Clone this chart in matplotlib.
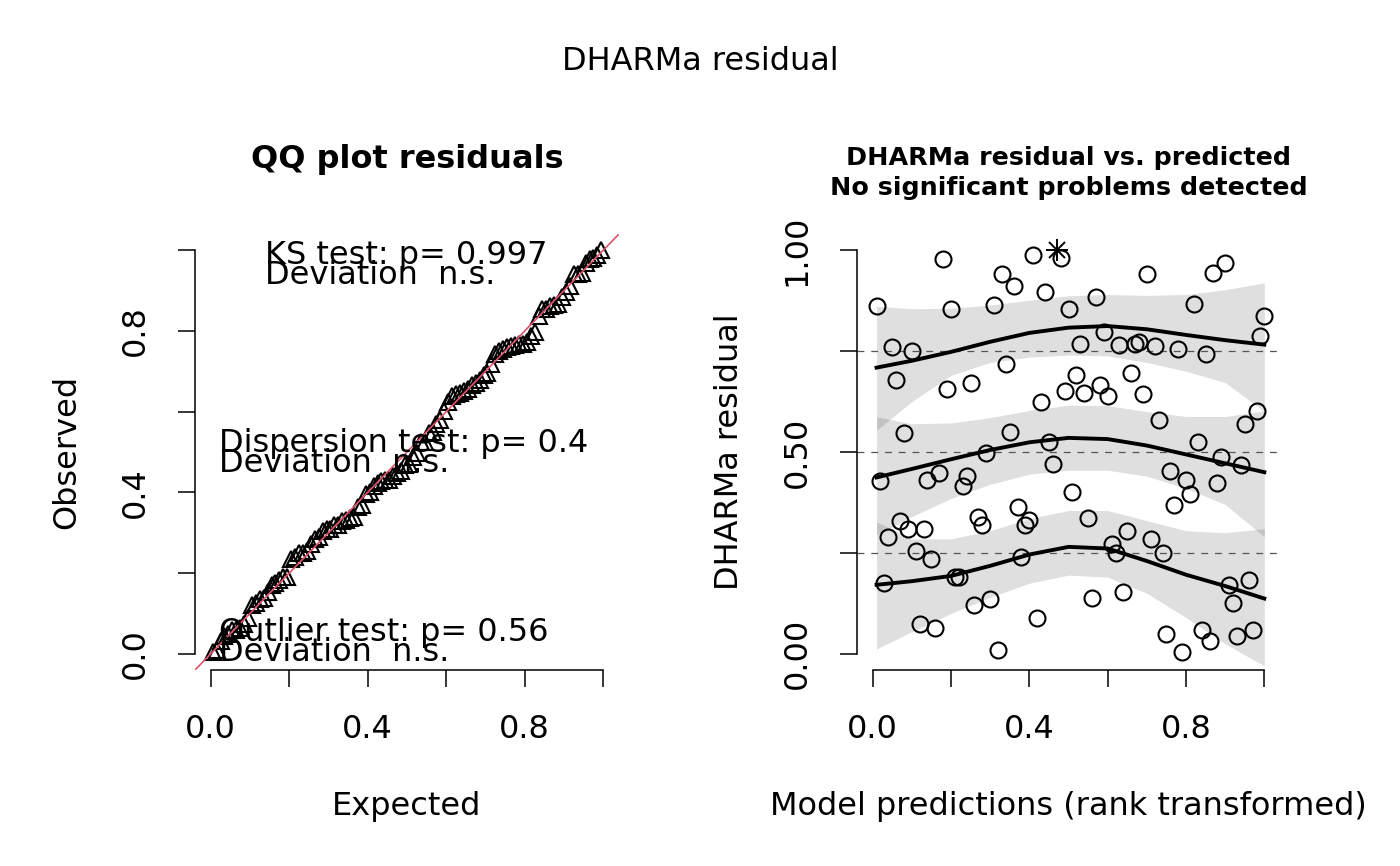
import numpy as np
import matplotlib.pyplot as plt

# scaled residuals, ordered by rank of the model prediction (x = 0.01 ... 1.00)
residuals = [
    0.861, 0.427, 0.175, 0.290, 0.761, 0.678, 0.330, 0.546, 0.309, 0.751,
    0.256, 0.075, 0.310, 0.431, 0.234, 0.063, 0.447, 0.979, 0.655, 0.855,
    0.191, 0.191, 0.416, 0.441, 0.670, 0.120, 0.340, 0.318, 0.497, 0.137,
    0.863, 0.010, 0.940, 0.717, 0.550, 0.911, 0.365, 0.241, 0.319, 0.332,
    0.987, 0.088, 0.624, 0.897, 0.526, 0.470, 1.000, 0.981, 0.650, 0.854,
    0.400, 0.690, 0.767, 0.647, 0.337, 0.139, 0.884, 0.667, 0.798, 0.639,
    0.272, 0.249, 0.764, 0.154, 0.305, 0.695, 0.767, 0.772, 0.644, 0.940,
    0.285, 0.762, 0.579, 0.249, 0.048, 0.452, 0.368, 0.754, 0.005, 0.431,
    0.396, 0.866, 0.526, 0.059, 0.742, 0.031, 0.944, 0.424, 0.487, 0.967,
    0.170, 0.125, 0.043, 0.467, 0.569, 0.183, 0.059, 0.601, 0.787, 0.838,
]
outlier_rank = [47]  # drawn as asterisk

# quantile regression curves (0.25 / 0.5 / 0.75) and their confidence bands
curve_x = [0.01, 0.1, 0.2, 0.3, 0.4, 0.5, 0.6, 0.7, 0.8, 0.9, 1.0]
q75 = [0.709, 0.726, 0.748, 0.773, 0.795, 0.808, 0.812, 0.804, 0.790, 0.777, 0.766]
q50 = [0.437, 0.458, 0.482, 0.505, 0.524, 0.535, 0.532, 0.516, 0.494, 0.472, 0.450]
q25 = [0.171, 0.180, 0.193, 0.218, 0.246, 0.265, 0.261, 0.230, 0.196, 0.168, 0.137]
q75_hi = [0.861, 0.855, 0.856, 0.864, 0.876, 0.887, 0.890, 0.888, 0.890, 0.902, 0.919]
q75_lo = [0.554, 0.625, 0.690, 0.722, 0.735, 0.740, 0.738, 0.722, 0.700, 0.672, 0.600]
q50_hi = [0.587, 0.570, 0.572, 0.585, 0.603, 0.616, 0.615, 0.600, 0.588, 0.588, 0.602]
q50_lo = [0.295, 0.340, 0.385, 0.420, 0.445, 0.455, 0.455, 0.440, 0.410, 0.370, 0.290]
q25_hi = [0.327, 0.285, 0.285, 0.305, 0.335, 0.355, 0.355, 0.330, 0.305, 0.300, 0.310]
q25_lo = [0.012, 0.055, 0.100, 0.140, 0.175, 0.195, 0.190, 0.150, 0.090, 0.025, -0.030]

qq_tests = [
    ("KS test: p= 0.997", 0.138, 0.965),
    ("Dispersion test: p= 0.4", 0.020, 0.499),
    ("Outlier test: p= 0.56", 0.020, 0.033),
]

n = len(residuals)
rank_x = np.arange(1, n + 1) / n
res = np.array(residuals)
qq_expected = (np.arange(1, n + 1) - 0.5) / n
qq_observed = np.sort(res)

W, H = 1400, 866
FS = 23


def px_box(x0, x1, y_top, y_bot):
    return [x0 / W, 1 - y_bot / H, (x1 - x0) / W, (y_bot - y_top) / H]


def r_axes(ax, yticks, ylabels):
    ax.set_xlim(-0.04, 1.04)
    ax.set_ylim(-0.04, 1.04)
    for s in ["top", "right"]:
        ax.spines[s].set_visible(False)
    for s in ["left", "bottom"]:
        ax.spines[s].set_linewidth(1.1)
    ax.spines["left"].set_bounds(0, 1)
    ax.spines["bottom"].set_bounds(0, 1)
    xt = [0, 0.2, 0.4, 0.6, 0.8, 1.0]
    ax.set_xticks(xt)
    ax.set_xticklabels(["0.0", "", "0.4", "", "0.8", ""])
    ax.set_yticks(yticks)
    ax.set_yticklabels(ylabels, rotation=90, va="center")
    ax.tick_params(length=12, width=1.1, labelsize=FS, pad=20)


fig = plt.figure(figsize=(14, 8.66), dpi=100)

# left: QQ plot
ax1 = fig.add_axes(px_box(195, 619, 234, 670))
r_axes(ax1, [0, 0.2, 0.4, 0.6, 0.8, 1.0], ["0.0", "", "0.4", "", "0.8", ""])
ax1.plot(qq_expected, qq_observed, linestyle="none", marker="^", ms=11.5,
         mfc="none", mec="black", mew=1.5)
ax1.axline((0, 0), slope=1, color="#DF536B", lw=1.2)
for label, tx, ty in qq_tests:
    ax1.text(tx, ty, label, fontsize=FS, ha="left", va="baseline")
    ax1.text(tx, ty - 0.0495, "Deviation  n.s.", fontsize=FS, ha="left", va="baseline")

# right: residual vs predicted
ax2 = fig.add_axes(px_box(857, 1280, 234, 670))
r_axes(ax2, [0, 0.25, 0.5, 0.75, 1.0], ["0.00", "", "0.50", "", "1.00"])
for lo, hi in [(q25_lo, q25_hi), (q50_lo, q50_hi), (q75_lo, q75_hi)]:
    ax2.fill_between(curve_x, lo, hi, color="#00000020", lw=0, zorder=1)
for h in [0.25, 0.5, 0.75]:
    ax2.axhline(h, color="#555555", lw=0.9, ls=(0, (5.5, 5.5)), zorder=2)
normal = np.ones(n, dtype=bool)
normal[np.array(outlier_rank) - 1] = False
ax2.plot(rank_x[normal], res[normal], linestyle="none", marker="o", ms=11.5,
         mfc="none", mec="black", mew=1.5, zorder=3)
out = ~normal
ax2.plot(rank_x[out], res[out], linestyle="none", marker="+", ms=16, mec="black", mew=1.4, zorder=3)
ax2.plot(rank_x[out], res[out], linestyle="none", marker="x", ms=11.5, mec="black", mew=1.4, zorder=3)
for q in [q25, q50, q75]:
    ax2.plot(curve_x, q, color="black", lw=2.8, zorder=4, solid_joinstyle="round")

# titles and axis labels
fig.text(700 / W, 1 - 70 / H, "DHARMa residual", fontsize=FS, ha="center", va="baseline")
fig.text(407 / W, 1 - 168 / H, "QQ plot residuals", fontsize=FS, fontweight="bold",
         ha="center", va="baseline")
fig.text(1069 / W, 1 - 165 / H, "DHARMa residual vs. predicted", fontsize=18.3,
         fontweight="bold", ha="center", va="baseline")
fig.text(1069 / W, 1 - 195 / H, "No significant problems detected", fontsize=18.3,
         fontweight="bold", ha="center", va="baseline")
fig.text(407 / W, 1 - 815 / H, "Expected", fontsize=FS, ha="center", va="baseline")
fig.text(1068 / W, 1 - 815 / H, "Model predictions (rank transformed)", fontsize=FS,
         ha="center", va="baseline")
fig.text(75 / W, 1 - 452 / H, "Observed", fontsize=FS, rotation=90,
         rotation_mode="anchor", ha="center", va="baseline")
fig.text(738 / W, 1 - 452 / H, "DHARMa residual", fontsize=FS, rotation=90,
         rotation_mode="anchor", ha="center", va="baseline")

fig.savefig("out.png", dpi=100)
